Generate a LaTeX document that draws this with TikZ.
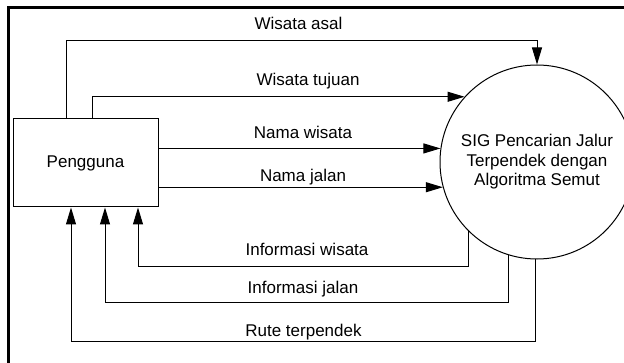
\documentclass[tikz,border=0pt]{standalone}
\usepackage{fontspec}
\setmainfont{Liberation Sans}
\usetikzlibrary{arrows.meta}

\begin{document}
\begin{tikzpicture}[x=0.75pt, y=-0.75pt,
    >={Triangle[length=12.75pt, width=7.5pt]},
    huruf/.style={font=\fontsize{12.75}{14.6}\selectfont},
    alur/.style={->, line width=0.75pt},
    teks/.style={huruf, anchor=base}]

    % Batas gambar
    \useasboundingbox (0,0) rectangle (624,363);
    \clip (0,0) rectangle (624,363);
    \draw[line width=1.8pt] (8.5,400) -- (8.5,7.5) -- (700,7.5);

    % Entitas luar dan proses
    \node[draw, line width=0.75pt, minimum width=108.75pt, minimum height=66pt, huruf] (pengguna) at (85.5,163) {Pengguna};
    \node[draw, circle, line width=0.75pt, minimum size=145.5pt, inner sep=0pt, align=center, huruf] (sig) at (537,162)
        {SIG Pencarian Jalur\\Terpendek dengan\\Algoritma Semut};

    % Aliran data masuk
    \draw[alur] (pengguna.north -| 66,0) -- (66,41) -| (sig.north);
    \draw[alur] (pengguna.north -| 92,0) |- (sig.138);
    \draw[alur] (sig.172 -| pengguna.east) -- (sig.172);
    \draw[alur] (sig.195 -| pengguna.east) -- (sig.195);

    % Aliran data keluar
    \draw[alur] (sig.225) -- (sig.225 |- 0,266) -| (pengguna.south -| 138,0);
    \draw[alur] (sig.253) -- (sig.253 |- 0,302) -| (pengguna.south -| 105,0);
    \draw[alur] (sig.269) -- (sig.269 |- 0,341) -| (pengguna.south -| 71,0);

    % Label aliran
    \node[teks] (lasal) at (298.5,29.5) {Wisata asal};
    \node[teks] (ltujuan) at (308,86) {Wisata tujuan};
    \node[teks] (lnamawisata) at (303,138.7) {Nama wisata};
    \node[teks] (lnamajalan) at (303,182) {Nama jalan};
    \node[teks] (linfowisata) at (307,255) {Informasi wisata};
    \node[teks] (linfojalan) at (303,293) {Informasi jalan};
    \node[teks] (lrute) at (303.5,336) {Rute terpendek};

\end{tikzpicture}
\end{document}
